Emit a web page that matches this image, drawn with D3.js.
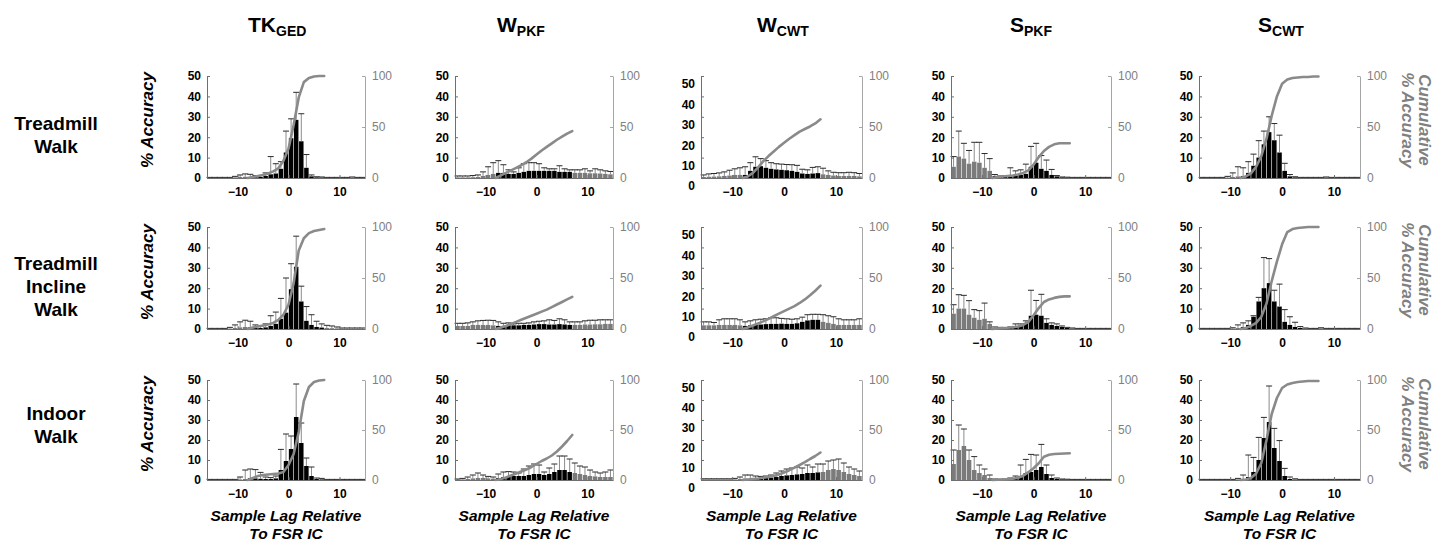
<!DOCTYPE html>
<html>
<head>
<meta charset="utf-8">
<script src="https://cdn.jsdelivr.net/npm/d3@7"></script>
<style>
  body { margin: 0; background: #fff; }
  svg { display: block; font-family: Arial, "Liberation Sans", sans-serif; }
</style>
</head>
<body>
<svg id="fig" width="1448" height="543"></svg>
<script>
// ---------- categories and tick labels ----------
// centres of the one-sample lag bins
const lagBins = [-15.5, -14.5, -13.5, -12.5, -11.5, -10.5, -9.5, -8.5,
                 -7.5, -6.5, -5.5, -4.5, -3.5, -2.5, -1.5, -0.5, 0.5, 1.5, 2.5, 3.5, 4.5, 5.5, 6.5,
                 7.5, 8.5, 9.5, 10.5, 11.5, 12.5, 13.5, 14.5];
// lags at which the cumulative accuracy is evaluated (acceptance window)
const cumLags = [-8, -7, -6, -5, -4, -3, -2, -1, 0, 1, 2, 3, 4, 5, 6, 7];
const windowStart = -8, windowEnd = 7;
const xTickValues = [-10, 0, 10];
const leftTickValues = [0, 10, 20, 30, 40, 50];
const rightTickValues = [0, 50, 100];
const methodNames = ["TK", "W", "W", "S", "S"];
const methodSubs = ["GED", "PKF", "CWT", "PKF", "CWT"];
const conditionLines = [["Treadmill", "Walk"], ["Treadmill", "Incline", "Walk"], ["Indoor", "Walk"]];

// ---------- TK_GED ----------
const tkTreadmillMean = [0,0,0,0,0,0.3,0.5,0.6, 0.5,0.4,0.5,1,1.8,2.2,4.5,12.5,19.5,28.5,18,5,0.8,0.3,0.2, 0.1,0.1,0.1,0.1,0.1,0.2,0.1,0.1];
const tkTreadmillUpper = [0.3,0.3,0.3,0.3,0.3,0.8,1.5,2, 1.8,1.2,1.2,2.5,10.5,7,8,23,29,42,31.5,11.5,1.5,0.6,0.5, 0.3,0.3,0.3,0.3,0.3,0.5,0.3,0.3];
const tkTreadmillCum = [0,1,2,3,4.5,6.5,9.5,17,29,52,79,94,98,99.5,100,100];

const tkInclineMean = [0,0,0,0,0.2,0.5,0.8,1, 0.8,0.5,0.5,0.8,1.5,2.5,5,8,19.5,30.5,13.5,4,2,1,0.7, 0.5,0.4,0.3,0.1,0.1,0.1,0.1,0.1];
const tkInclineUpper = [0.3,0.3,0.3,0.3,0.8,2,3.5,4.3, 3.8,2,1.5,2.5,6.5,8.3,15,25,32,45.5,21,11,7,3.8,2.5, 1.8,1.5,1,0.5,0.5,0.5,0.5,0.5];
const tkInclineCum = [0,1.5,2.5,3.5,4.5,6,9,14,24,45,77,89,94,96,97,98];

const tkIndoorMean = [0,0,0,0,0,0,0.3,0.5, 1,0.8,0.6,0.5,0.5,0.8,5,9.5,15.5,31.5,18.5,7,2,0.5,0.3, 0.1,0.1,0.1,0.1,0.1,0.1,0.1,0.1];
const tkIndoorUpper = [0.3,0.3,0.3,0.3,0.3,0.3,1.5,5, 5.5,5.2,3.8,1.5,1.2,2,15.3,23,22,48,28.5,11,6.5,1,0.8, 0.3,0.3,0.3,0.3,0.3,0.3,0.3,0.3];
const tkIndoorCum = [0,2,4,5,5.5,6,6.5,8,15,26,48,79,93,98,99.5,100];

// ---------- W_PKF ----------
const wpTreadmillMean = [0.3,0.3,0.3,0.4,0.5,1,1.5,2, 2.5,2.5,2,2,2.5,3,3.5,3.5,3.5,3.5,3.5,3.5,3,3,3, 2.5,2.5,2.5,2.3,2.3,2.2,2,1.8];
const wpTreadmillUpper = [1,1,1,1.2,1.5,3,5.5,7.5, 8.5,6.5,4,3,5,7,7.5,7.5,7,5,4.5,4.5,6,4.5,4, 4,4,4.5,3.5,4.5,4,3.5,3.2];
const wpTreadmillCum = [0,2.5,5,7.5,10,12.5,15.5,19,23,27,30.5,34,37.5,40.5,43.5,46];

const wpInclineMean = [1.5,1.5,1.5,2,2,2,2,1.8, 1.5,1.5,1.8,1.8,1.8,2,2,2.2,2.4,2.4,2.2,2.2,2.4,2.2,2, 2,2,2.2,2.2,2.3,2.3,2.5,2.5];
const wpInclineUpper = [2.8,2.8,3,3.5,4,4.2,4.3,4.2, 3.5,2.8,3,2.5,2.8,2.8,3,3.5,3.8,4,4.5,4.2,5,4.5,3.5, 3.5,3.5,4,4.3,4.3,4.5,4.5,4.5];
const wpInclineCum = [0,1.5,3,5,7,9,11,13,15,17,19,21.5,24,26.5,29,31.5];

const wpIndoorMean = [0.2,0.3,0.5,0.8,1,1,0.8,0.7, 1,1.5,1.8,2,2,2,2.5,3,3,2.5,3,4,5,5,4, 3.5,3,2.5,2,1.8,1.5,1.5,1.5];
const wpIndoorUpper = [0.5,0.8,1.5,2.5,3.5,2.5,1.8,1.5, 3,4,4.2,4,3.5,5.5,7,8,7.5,4,6,8,12,12,10.5, 8.5,7,6.5,5,4,3.5,4,5];
const wpIndoorCum = [0,1,2.5,4.5,6.5,8.5,10.5,13,16,19,21.5,24.5,28.5,33.5,39,45];

// ---------- W_CWT ----------
const wcTreadmillMean = [0.5,0.6,0.7,0.8,1,1.2,1.5,1.5, 1.5,3.5,5.5,5.8,5,4.5,4.2,4,3.8,3.5,3,2.2,2,2.2,2.4, 1.8,1.5,1.2,1,1,1,1,0.8];
const wcTreadmillUpper = [1.5,2,2.2,2.5,3,3.8,4.5,5, 5.5,7.5,10.4,9.5,8.5,7.5,7,6.8,6.6,6.5,6.2,4.3,4,5.2,5.5, 4.8,3.5,2.8,2.6,2.6,2.8,2.6,2.2];
const wcTreadmillCum = [0,1.5,5,10.5,16.5,21.5,26,30.5,34.5,38.5,42,45.5,48,50.5,53.5,57.5];

const wcInclineMean = [1.8,1.8,1.8,2,2,2,2,1.8, 1.5,1.8,2,2.2,2.4,2.5,2.5,2.6,2.5,2.5,2.8,3.5,4.2,4.5,4.5, 3.5,3,2.5,2,2,2,2,2];
const wcInclineUpper = [3.5,3.5,3.2,4.5,5,5,5,4.5, 3.5,4,4.5,4.8,5,5.5,5.5,5.2,5,4.8,5,5.8,7,7.2,7.2, 7,6.5,6,5,4.5,4.5,4.5,5];
const wcInclineCum = [0,1.5,3.5,5.5,7.5,10,12.5,15,17.5,20,22.5,25.5,29,33,37.5,42.5];

const wcIndoorMean = [0.3,0.3,0.3,0.3,0.3,0.3,0.3,0.5, 0.6,0.5,0.6,0.8,1,1.2,1.5,2,2.3,2.5,2.8,3,3.5,3.5,3.8, 4,5,5.5,5,4,3,2.5,2];
const wcIndoorUpper = [0.6,0.6,0.6,0.6,0.6,0.6,0.8,1.5, 2.5,2.5,2,1.8,2,2.5,3.5,4.5,5.5,6,6.5,6,7.5,6.5,8, 8,9.5,10,10.5,8.5,6.5,5.5,4.5];
const wcIndoorCum = [0,0.5,1,1.5,2.2,3,4,5.5,7.5,9.8,12.3,15,17.8,21,24,27.5];

// ---------- S_PKF ----------
const spTreadmillMean = [5.5,10.5,9.5,7,8,7.5,5,3.5, 1,0.5,0.5,0.8,1,1.5,2,5.5,7.5,4.5,3.5,1.5,0.8,0.3,0.2, 0.1,0.1,0.1,0.1,0.1,0.1,0.1,0.1];
const spTreadmillUpper = [10.5,23,17,13.5,17.5,17.5,12,9.5, 1.7,1,1,5,3.5,4,6.8,15.5,17,11,8.8,4.2,1.2,0.5,0.4, 0.3,0.3,0.3,0.3,0.3,0.3,0.3,0.3];
const spTreadmillCum = [0,1,1.5,2,2.5,3.5,5,7.5,13,20.5,26.5,30.5,33,34,34,34];

const spInclineMean = [7.5,10,10,7,5.5,4.5,5,2.5, 0.5,0.3,0.3,0.5,1,1.5,3,6.5,7,6.5,3,2,1.5,1,0.5, 0.3,0.1,0.1,0.1,0.1,0.1,0.1,0.1];
const spInclineUpper = [11.9,16.8,16.5,13.9,9.5,9,12.7,3.5, 1,0.8,0.6,1,2.5,2.5,4,19,14,17,5,3,2.5,1.5,0.8, 0.5,0.3,0.3,0.3,0.3,0.3,0.3,0.3];
const spInclineCum = [0,0.5,1,1.3,1.8,2.5,4,7,13.5,20.5,26.5,29,30.5,31.5,32,32];

const spIndoorMean = [8,15,17,10,5,3.5,2.5,1, 0.3,0.2,0.3,0.5,1,2,3.5,4,5,6.5,3,1,0.5,0.3,0.2, 0.1,0.1,0.1,0.1,0.1,0.1,0.1,0.1];
const spIndoorUpper = [15,27.5,25.5,15,11.7,7.5,5.5,2.5, 0.5,0.4,0.5,1,2,7.5,10.3,12.8,12.5,17.8,7.5,2.5,1,0.5,0.4, 0.3,0.3,0.3,0.3,0.3,0.3,0.3,0.3];
const spIndoorCum = [0,0.3,0.5,0.8,1.3,2.3,4.3,7.8,11.8,16.8,23.3,25.3,26,26.3,26.5,26.7];

// ---------- S_CWT ----------
const scTreadmillMean = [0,0,0,0,0,0.2,0.5,0.8, 1,2.5,6,10,16.5,22.5,18.5,12.5,3.5,0.8,0.3,0.1,0.1,0.1,0.1, 0.1,0.3,0.1,0.1,0.1,0.1,0.1,0.1];
const scTreadmillUpper = [0.3,0.3,0.3,0.3,0.3,0.8,2.5,5.5, 5,8,11.7,18.3,23,30,26.7,21,7.2,1.7,0.6,0.3,0.3,0.3,0.3, 0.3,0.5,0.3,0.3,0.3,0.3,0.3,0.3];
const scTreadmillCum = [0,1.5,4.5,11,21.5,38.5,61,80,92.5,96.5,98,98.5,99,99,99.5,99.5];

const scInclineMean = [0,0,0,0,0,0,0.2,0.5, 1,2,6,13.5,20,22.5,13.5,11,3.5,2,1,0.5,0.2,0.1,0.1, 0.3,0.1,0.1,0.1,0.1,0.1,0.1,0.1];
const scInclineUpper = [0.3,0.3,0.3,0.3,0.3,0.3,0.6,2, 3,4,6.5,15.5,35,34.5,19,22,9.5,6,3.3,1.2,0.5,0.3,0.3, 0.6,0.3,0.3,0.3,0.3,0.3,0.3,0.3];
const scInclineCum = [0,1,3,6,12,25,47,66,83,95,98,99,99.5,100,100,100];

const scIndoorMean = [0,0,0,0,0,0,0.1,0.3, 0.5,1.5,4,10,21,29,16,9.5,2,0.5,0.2,0.1,0.1,0.1,0.1, 0.1,0.1,0.1,0.1,0.1,0.1,0.1,0.1];
const scIndoorUpper = [0.3,0.3,0.3,0.3,0.3,0.3,0.3,0.8, 2.5,12.5,11.3,21.3,31.3,47,25.8,19.7,5.8,1.5,0.6,0.3,0.3,0.3,0.3, 0.3,0.3,0.3,0.3,0.3,0.3,0.3,0.3];
const scIndoorCum = [0,0.5,2,6.5,17,40,66,82,92,95.5,97,98,98.5,99,99,99];

// ---------- grid of panels (rows = conditions, columns = methods) ----------
const panelData = [
  [[tkTreadmillMean, tkTreadmillUpper, tkTreadmillCum], [wpTreadmillMean, wpTreadmillUpper, wpTreadmillCum],
   [wcTreadmillMean, wcTreadmillUpper, wcTreadmillCum], [spTreadmillMean, spTreadmillUpper, spTreadmillCum],
   [scTreadmillMean, scTreadmillUpper, scTreadmillCum]],
  [[tkInclineMean, tkInclineUpper, tkInclineCum], [wpInclineMean, wpInclineUpper, wpInclineCum],
   [wcInclineMean, wcInclineUpper, wcInclineCum], [spInclineMean, spInclineUpper, spInclineCum],
   [scInclineMean, scInclineUpper, scInclineCum]],
  [[tkIndoorMean, tkIndoorUpper, tkIndoorCum], [wpIndoorMean, wpIndoorUpper, wpIndoorCum],
   [wcIndoorMean, wcIndoorUpper, wcIndoorCum], [spIndoorMean, spIndoorUpper, spIndoorCum],
   [scIndoorMean, scIndoorUpper, scIndoorCum]]
];

// ---------- layout ----------
const colLeft  = [207, 455, 701, 951, 1199];
const colRight = [365, 613, 862, 1111, 1360];
const rowTop    = [76, 227, 380];
const rowBottom = [178, 329, 480];
const titleLeft = [248, 497, 757, 1010, 1258];
const font = 'Arial, "Liberation Sans", sans-serif';
const GRAY_BAR = "#7b7b7b", GRAY_LINE = "#8a8a8a", GRAY_TEXT = "#808080";

const svg = d3.select("#fig");

// column titles with subscripts
methodNames.forEach((name, c) => {
  const t = svg.append("text")
    .attr("x", titleLeft[c]).attr("y", 32)
    .attr("font-size", 21).attr("font-weight", "bold").attr("fill", "#000");
  t.append("tspan").text(name);
  t.append("tspan").attr("font-size", 14).attr("dy", 4).text(methodSubs[c]);
});

// row labels
conditionLines.forEach((lines, r) => {
  const firstBaseline = [130, 270, 420][r];
  const t = svg.append("text").attr("text-anchor", "middle")
    .attr("font-size", 19).attr("font-weight", "bold").attr("fill", "#000");
  lines.forEach((ln, i) => {
    t.append("tspan").attr("x", 56).attr("y", firstBaseline + i * 23).text(ln);
  });
});

// panels
panelData.forEach((rowPanels, r) => {
  rowPanels.forEach(([means, uppers, cum], c) => {
    const L = colLeft[c], R = colRight[c], T = rowTop[r], B = rowBottom[r];
    const x = d3.scaleLinear().domain([-16, 15]).range([L, R]);
    const yL = d3.scaleLinear().domain([0, 50]).range([B, T]);
    const yR = d3.scaleLinear().domain([0, 100]).range([B, T]);
    const g = svg.append("g");
    const bw = x(0.88) - x(0);
    const inWindow = v => v > windowStart && v < windowEnd;

    // bars
    g.selectAll("rect.bar").data(lagBins).join("rect")
      .attr("x", d => x(d) - bw / 2)
      .attr("width", bw)
      .attr("y", (d, i) => yL(means[i]))
      .attr("height", (d, i) => B - yL(means[i]))
      .attr("fill", d => inWindow(d) ? "#000" : GRAY_BAR);

    // error bars (upper)
    g.selectAll("line.stem").data(lagBins).join("line")
      .attr("x1", d => x(d)).attr("x2", d => x(d))
      .attr("y1", (d, i) => yL(means[i])).attr("y2", (d, i) => yL(uppers[i]))
      .attr("stroke", "#8c8c8c").attr("stroke-width", 1);
    g.selectAll("line.cap").data(lagBins).join("line")
      .attr("x1", d => x(d) - 3).attr("x2", d => x(d) + 3)
      .attr("y1", (d, i) => yL(uppers[i])).attr("y2", (d, i) => yL(uppers[i]))
      .attr("stroke", "#2a2a2a").attr("stroke-width", 1);

    // axes
    const ax = g.append("g").attr("transform", `translate(${L},0)`)
      .call(d3.axisLeft(yL).tickValues(leftTickValues).tickSize(-3).tickSizeOuter(0).tickPadding(6));
    ax.select(".domain").attr("stroke", "#6f6f6f");
    ax.selectAll(".tick line").attr("stroke", "#6f6f6f");
    ax.selectAll(".tick text").attr("font-family", font).attr("font-size", 12)
      .attr("font-weight", "bold").attr("fill", "#000");
    if (c === 2) ax.selectAll(".tick text").attr("y", 8);

    const ar = g.append("g").attr("transform", `translate(${R},0)`)
      .call(d3.axisRight(yR).tickValues(rightTickValues).tickSize(-3).tickSizeOuter(0).tickPadding(7));
    ar.select(".domain").attr("stroke", "#a6a6a6");
    ar.selectAll(".tick line").attr("stroke", "#a6a6a6");
    ar.selectAll(".tick text").attr("font-family", font).attr("font-size", 12).attr("fill", GRAY_TEXT);

    const ab = g.append("g").attr("transform", `translate(0,${B})`)
      .call(d3.axisBottom(x).tickValues(xTickValues).tickSize(-3).tickSizeOuter(0).tickPadding(9));
    ab.select(".domain").attr("stroke", "#6f6f6f");
    ab.selectAll(".tick line").attr("stroke", "#6f6f6f");
    ab.selectAll(".tick text").attr("font-family", font).attr("font-size", 12)
      .attr("font-weight", "bold").attr("fill", "#000");

    // cumulative accuracy line on the right axis
    g.append("path").datum(cum)
      .attr("d", d3.line().x((d, i) => x(cumLags[i])).y(d => yR(d)))
      .attr("fill", "none").attr("stroke", GRAY_LINE).attr("stroke-width", 2.6)
      .attr("stroke-linejoin", "round").attr("stroke-linecap", "round");

    // x-axis title under every panel of the bottom row
    if (r === 2) {
      const t = svg.append("text").attr("text-anchor", "middle")
        .attr("font-size", 15.5).attr("font-weight", "bold").attr("font-style", "italic").attr("fill", "#000");
      t.append("tspan").attr("x", (L + R) / 2).attr("y", 521).text("Sample Lag Relative");
      t.append("tspan").attr("x", (L + R) / 2).attr("y", 539).text("To FSR IC");
    }
  });

  // left axis title
  const cy = [120, 272, 424][r];
  svg.append("text").attr("transform", `translate(153,${cy}) rotate(-90)`)
    .attr("text-anchor", "middle").attr("font-size", 17).attr("font-weight", "bold")
    .attr("font-style", "italic").attr("fill", "#000").text("% Accuracy");

  // right axis title
  const ry = [120, 270, 424][r];
  const rt = svg.append("text").attr("transform", `translate(1419,${ry}) rotate(90)`)
    .attr("text-anchor", "middle").attr("font-size", 17).attr("font-weight", "bold")
    .attr("font-style", "italic").attr("fill", GRAY_TEXT);
  rt.append("tspan").attr("x", 0).attr("y", 0).text("Cumulative");
  rt.append("tspan").attr("x", 0).attr("y", 17).text("% Accuracy");
});
</script>
</body>
</html>
